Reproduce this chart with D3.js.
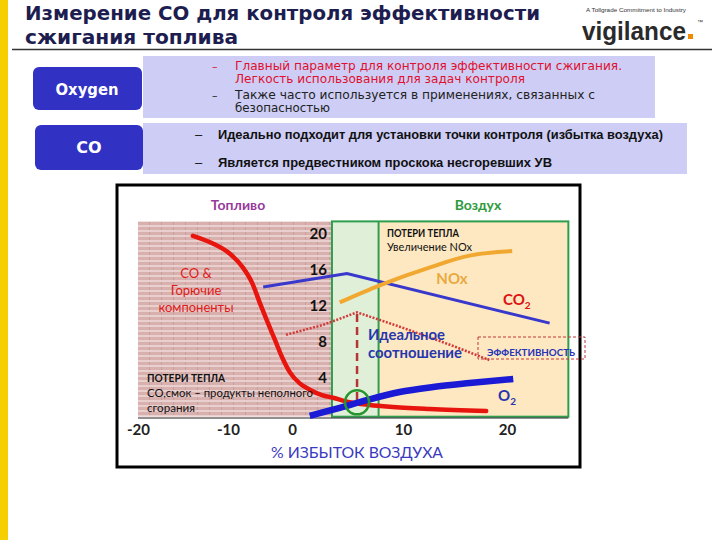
<!DOCTYPE html>
<html><head><meta charset="utf-8">
<script src="https://cdn.jsdelivr.net/npm/d3@7"></script>
<style>
html,body{margin:0;padding:0;background:#fff;}
svg{display:block;}
</style></head>
<body>
<svg id="c" width="720" height="540"></svg>
<script>
// ---------- data ----------
const titleLines = ["Измерение CO для контроля эффективности", "сжигания топлива"];
const bullets1 = ["Главный параметр для контроля эффективности сжигания.", "Легкость использования для задач контроля", "Также часто используется  в применениях, связанных с", "безопасностью"];
const bullets2 = ["Идеально подходит для установки точки контроля (избытка воздуха)", "Является предвестником проскока несгоревших УВ"];
const xTickValues = [-20, -10, 0, 10, 20];
const yTickValues = [4, 8, 12, 16, 20];
// CO & combustibles (red)
const coX = [-13.9, -11.8, -9.7, -7.7, -6.25, -5.0, -3.75, -2.65, -1.55, -0.3, 0.7, 1.6, 2.7, 3.7, 5.2, 7.0, 8.8, 12.6, 18.0];
const coY = [19.8, 19.0, 17.8, 16.3, 14.6, 12.3, 10.1, 8.2, 6.3, 4.6, 3.4, 2.7, 2.1, 1.8, 1.3, 1.0, 0.8, 0.55, 0.33];
// O2 (thick blue)
const o2X = [1.6, 4.3, 6.8, 9.7, 12.9, 16.4, 20.6];
const o2Y = [-0.2, 0.67, 1.56, 2.44, 3.0, 3.44, 3.9];
// CO2 (thin blue)
const co2X = [-4.5, 4.95, 24.1];
const co2Y = [14.1, 15.6, 10.1];
// NOx (orange)
const noxX = [4.3, 7.9, 12.6, 16.4, 20.5];
const noxY = [12.4, 14.3, 16.3, 17.6, 18.1];
// Efficiency (dotted red)
const effX = [-0.94, 2.8, 5.86, 9.7, 14.5, 18.3];
const effY = [8.8, 9.9, 11.3, 9.7, 7.7, 6.0];
// Ideal point
const idealX = 5.86, idealTop = 11.1, idealY = 1.3;
// Zones (x in % excess air, y in value units)
const fuelZone = [-20, 3.6];
const idealZone = [3.6, 7.8];
const airZone = [7.8, 25.9];
const zoneY = [-0.3, 21.4];

// ---------- drawing ----------
const svg = d3.select("#c");
const defs = svg.append("defs");
const pat = defs.append("pattern").attr("id","hatch").attr("patternUnits","userSpaceOnUse")
  .attr("width",12).attr("height",5);
pat.append("rect").attr("width",12).attr("height",5).attr("fill","#d8b1af");
pat.append("rect").attr("y",0).attr("width",12).attr("height",2).attr("fill","#e9cfcd");
pat.append("rect").attr("x",5).attr("y",2).attr("width",1).attr("height",3).attr("fill","#c99f9d");

// yellow bar
svg.append("rect").attr("x",0).attr("y",0).attr("width",8).attr("height",540).attr("fill","#f6cf00");

// title
const tFont = "'DejaVu Sans', Verdana, sans-serif";
svg.append("text").attr("x",25).attr("y",20).text(titleLines[0])
  .attr("font-family",tFont).attr("font-weight","bold").attr("font-size",20).attr("fill","#1d1d4f")
  .attr("textLength",515).attr("lengthAdjust","spacingAndGlyphs");
svg.append("text").attr("x",25).attr("y",44).text(titleLines[1])
  .attr("font-family",tFont).attr("font-weight","bold").attr("font-size",20).attr("fill","#1d1d4f")
  .attr("textLength",213).attr("lengthAdjust","spacingAndGlyphs");
svg.append("line").attr("x1",12).attr("x2",712).attr("y1",49.5).attr("y2",49.5).attr("stroke","#333").attr("stroke-width",1.5);

// logo
svg.append("text").attr("x",586).attr("y",12).text("A Tollgrade Commitment to Industry")
  .attr("font-family","'Liberation Sans', Arial").attr("font-size",5).attr("fill","#333")
  .attr("textLength",100).attr("lengthAdjust","spacingAndGlyphs");
svg.append("text").attr("x",582).attr("y",40).text("vigilance")
  .attr("font-family","'Liberation Sans', Arial").attr("font-weight","bold").attr("font-size",25).attr("fill","#2a2a2a")
  .attr("textLength",104).attr("lengthAdjust","spacingAndGlyphs");
svg.append("rect").attr("x",688).attr("y",34).attr("width",5).attr("height",5).attr("fill","#f08a00");
svg.append("text").attr("x",697).attr("y",24).text("™").attr("font-family","'Liberation Sans', Arial").attr("font-size",6).attr("fill","#333");

// lavender boxes
svg.append("rect").attr("x",143).attr("y",56).attr("width",512).attr("height",62).attr("fill","#cdcdf5");
svg.append("rect").attr("x",143).attr("y",123).attr("width",544).attr("height",51).attr("fill","#cdcdf5");
// buttons
svg.append("rect").attr("x",33).attr("y",67).attr("width",109).attr("height",43).attr("rx",6).attr("fill","#3131c4");
svg.append("rect").attr("x",35).attr("y",125).attr("width",108).attr("height",45).attr("rx",6).attr("fill","#3131c4");
svg.append("text").attr("x",87).attr("y",95).attr("text-anchor","middle").text("Oxygen")
  .attr("font-family",tFont).attr("font-weight","bold").attr("font-size",15).attr("fill","#fff")
  .attr("textLength",63).attr("lengthAdjust","spacingAndGlyphs");
svg.append("text").attr("x",89).attr("y",153).attr("text-anchor","middle").text("CO")
  .attr("font-family",tFont).attr("font-weight","bold").attr("font-size",16).attr("fill","#fff");

// bullets 1
const bFont = "'DejaVu Sans', Verdana, sans-serif";
const b1 = [
  {t: bullets1[0], y: 70, w: 387, c: "#e0102e", dash: true},
  {t: bullets1[1], y: 83, w: 290, c: "#e0102e", dash: false},
  {t: bullets1[2], y: 99, w: 360, c: "#222", dash: true},
  {t: bullets1[3], y: 112, w: 95, c: "#222", dash: false}
];
b1.forEach(d => {
  if (d.dash) svg.append("text").attr("x",212).attr("y",d.y).text("–").attr("font-family",bFont).attr("font-size",11).attr("fill",d.c);
  svg.append("text").attr("x",235).attr("y",d.y).text(d.t).attr("font-family",bFont).attr("font-size",11.5).attr("fill",d.c)
    .attr("textLength",d.w).attr("lengthAdjust","spacingAndGlyphs");
});
const b2 = [{t: bullets2[0], y: 139, w: 445}, {t: bullets2[1], y: 167, w: 334}];
b2.forEach(d => {
  svg.append("text").attr("x",195).attr("y",d.y).text("–").attr("font-family","'Liberation Sans', Arial").attr("font-size",13).attr("fill","#111");
  svg.append("text").attr("x",218).attr("y",d.y).text(d.t).attr("font-family","'Liberation Sans', Arial").attr("font-weight","bold").attr("font-size",13).attr("fill","#111")
    .attr("textLength",d.w).attr("lengthAdjust","spacingAndGlyphs");
});

// ---------- chart ----------
svg.append("rect").attr("x",117).attr("y",185).attr("width",463).attr("height",282).attr("fill","#fff").attr("stroke","#000").attr("stroke-width",3);

const x = d3.scaleLinear().domain(xTickValues).range([138, 228, 292, 403, 507]);
const y = d3.scaleLinear().domain([0, 20]).range([414, 234]);

// zones
svg.append("rect").attr("x",x(fuelZone[0])).attr("y",y(zoneY[1])).attr("width",x(fuelZone[1])-x(fuelZone[0])).attr("height",y(zoneY[0])-y(zoneY[1])).attr("fill","url(#hatch)");
svg.append("rect").attr("x",x(idealZone[0])).attr("y",y(zoneY[1])).attr("width",x(idealZone[1])-x(idealZone[0])).attr("height",y(zoneY[0])-y(zoneY[1])).attr("fill","#e0f0d8");
svg.append("rect").attr("x",x(airZone[0])).attr("y",y(zoneY[1])).attr("width",x(airZone[1])-x(airZone[0])).attr("height",y(zoneY[0])-y(zoneY[1])).attr("fill","#fde8c2");
svg.append("rect").attr("x",x(idealZone[0])).attr("y",y(zoneY[1])).attr("width",x(airZone[1])-x(idealZone[0])).attr("height",y(zoneY[0])-y(zoneY[1])).attr("fill","none").attr("stroke","#2e9e4e").attr("stroke-width",2);
svg.append("line").attr("x1",x(airZone[0])).attr("x2",x(airZone[0])).attr("y1",y(zoneY[1])).attr("y2",y(zoneY[0])).attr("stroke","#2e9e4e").attr("stroke-width",2);

// x axis
const labFont = "Lato, 'Open Sans', sans-serif";
const xAxisG = svg.append("g").attr("transform","translate(0,418)")
  .call(d3.axisBottom(x).tickValues(xTickValues).tickSize(0).tickPadding(6).tickFormat(d => String(d)));
xAxisG.select(".domain").remove();
xAxisG.selectAll("text").attr("font-family",labFont).attr("font-weight","bold").attr("font-size",15).attr("fill","#222");
svg.append("line").attr("x1",x(-20)).attr("x2",x(airZone[1])).attr("y1",418).attr("y2",418).attr("stroke","#222").attr("stroke-width",1.2);

// y axis
const yAxisG = svg.append("g").attr("transform","translate(327,0)")
  .call(d3.axisLeft(y).tickValues(yTickValues).tickSize(0).tickPadding(0));
yAxisG.select(".domain").remove();
yAxisG.selectAll("text").attr("font-family",labFont).attr("font-weight","bold").attr("font-size",15).attr("fill","#111");

const line = (curve) => d3.line().x(d => x(d[0])).y(d => y(d[1])).curve(curve);
const zip = (a, b) => a.map((v, i) => [v, b[i]]);

// efficiency dotted
svg.append("path").attr("d", line(d3.curveLinear)(zip(effX, effY))).attr("fill","none")
  .attr("stroke","#d23a3a").attr("stroke-width",2.5).attr("stroke-dasharray","2,1.5");
// CO2
svg.append("path").attr("d", line(d3.curveLinear)(zip(co2X, co2Y))).attr("fill","none")
  .attr("stroke","#3838cc").attr("stroke-width",3);
// NOx
svg.append("path").attr("d", line(d3.curveMonotoneX)(zip(noxX, noxY))).attr("fill","none")
  .attr("stroke","#f0a830").attr("stroke-width",4);
// ideal dashed vertical
svg.append("line").attr("x1",x(idealX)).attr("x2",x(idealX)).attr("y1",y(idealTop)).attr("y2",y(idealY))
  .attr("stroke","#b53535").attr("stroke-width",2.5).attr("stroke-dasharray","8,5");
// CO red
svg.append("path").attr("d", line(d3.curveMonotoneX)(zip(coX, coY))).attr("fill","none")
  .attr("stroke","#e8140e").attr("stroke-width",4.5).attr("stroke-linecap","round");
// O2 thick blue
svg.append("path").attr("d", line(d3.curveMonotoneX)(zip(o2X, o2Y))).attr("fill","none")
  .attr("stroke","#1b1bd6").attr("stroke-width",6.5);
// ideal circle
svg.append("circle").attr("cx",x(idealX)).attr("cy",y(idealY)).attr("r",12).attr("fill","none")
  .attr("stroke","#27962f").attr("stroke-width",2.5);

// efficiency box
svg.append("rect").attr("x",478).attr("y",337).attr("width",107).attr("height",22).attr("fill","none")
  .attr("stroke","#c03838").attr("stroke-width",1).attr("stroke-dasharray","3,2");
svg.append("text").attr("x",531).attr("y",356).attr("text-anchor","middle").text("ЭФФЕКТИВНОСТЬ")
  .attr("font-family",labFont).attr("font-weight","bold").attr("font-size",10).attr("fill","#2433b8")
  .attr("textLength",88).attr("lengthAdjust","spacingAndGlyphs");

// labels
const T = (tx, ty, s, opt) => {
  const t = svg.append("text").attr("x",tx).attr("y",ty).text(s)
    .attr("font-family",labFont).attr("font-size",opt.size).attr("fill",opt.c)
    .attr("font-weight",opt.bold ? "bold" : "normal").attr("text-anchor",opt.anchor || "start");
  if (opt.w) t.attr("textLength",opt.w).attr("lengthAdjust","spacingAndGlyphs");
  return t;
};
T(238, 210, "Топливо", {size:14, c:"#963a9c", bold:true, anchor:"middle"});
T(478, 210, "Воздух", {size:14, c:"#2e9a3e", bold:true, anchor:"middle"});
T(387, 237, "ПОТЕРИ ТЕПЛА", {size:10.5, c:"#111", bold:true, w:72});
T(387, 251, "Увеличение NOx", {size:10.5, c:"#111", w:85});
T(452, 284, "NOx", {size:15, c:"#eaa83e", bold:true, anchor:"middle"});
const co2t = T(503, 305, "CO", {size:15, c:"#dd1111", bold:true});
co2t.append("tspan").attr("dy",4).attr("font-size",10).text("2");
T(368, 340, "Идеальное", {size:15, c:"#2636ae", bold:true, w:77});
T(368, 358, "соотношение", {size:15, c:"#2636ae", bold:true, w:94});
const o2t = T(498, 401, "O", {size:15, c:"#2636ae", bold:true});
o2t.append("tspan").attr("dy",4).attr("font-size",10).text("2");
T(196, 278, "CO &", {size:13, c:"#e01a1a", anchor:"middle"});
T(196, 295, "Горючие", {size:13, c:"#e01a1a", anchor:"middle"});
T(196, 312, "компоненты", {size:13, c:"#e01a1a", anchor:"middle", w:75});
T(147, 382, "ПОТЕРИ ТЕПЛА", {size:11, c:"#111", bold:true, w:78});
T(147, 397, "CO,смок – продукты неполного", {size:11, c:"#111", w:166});
T(147, 412, "сгорания", {size:11, c:"#111", w:48});
T(357, 458, "% ИЗБЫТОК ВОЗДУХА", {size:16, c:"#3a3ac0", anchor:"middle", w:172});
</script>
</body></html>
